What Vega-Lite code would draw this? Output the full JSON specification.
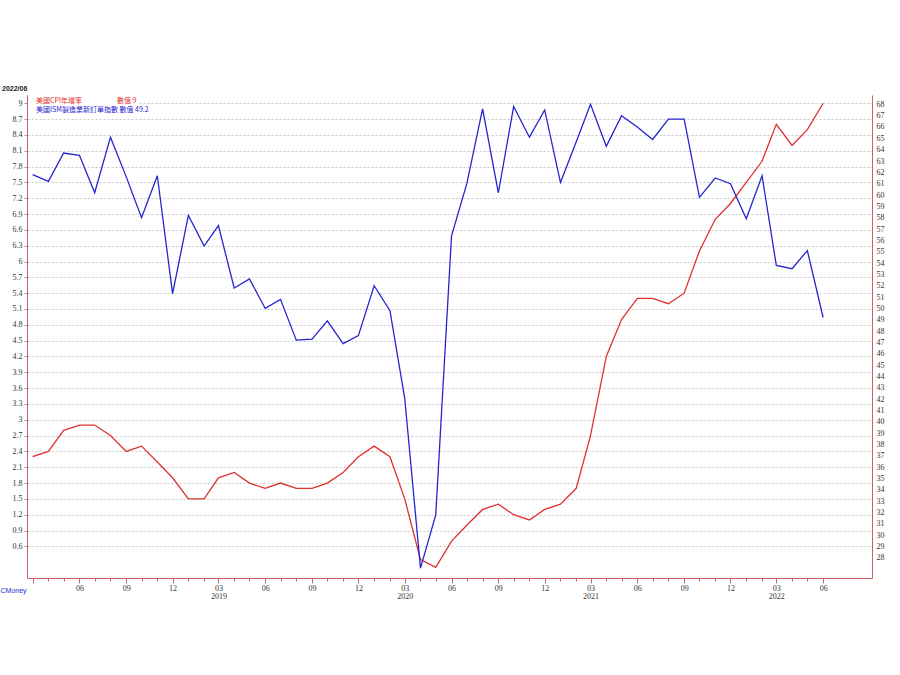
{
  "$schema": "https://vega.github.io/schema/vega-lite/v6.json",
  "width": 845,
  "height": 483,
  "autosize": {"type": "none"},
  "padding": {"left": 27, "top": 95, "right": 28, "bottom": 97},
  "background": "white",
  "config": {
    "view": {"stroke": null}
  },
  "title": {
    "text": "2022/06",
    "anchor": "start",
    "frame": "group",
    "dx": -25,
    "offset": 3,
    "fontSize": 7,
    "font": "Liberation Sans",
    "fontWeight": "bold",
    "color": "#222222"
  },
  "data": {
    "values": [
      {"date": "2018-03-01", "cpi": 2.3, "ism": 61.8},
      {"date": "2018-04-01", "cpi": 2.4, "ism": 61.2},
      {"date": "2018-05-01", "cpi": 2.8, "ism": 63.7},
      {"date": "2018-06-01", "cpi": 2.9, "ism": 63.5},
      {"date": "2018-07-01", "cpi": 2.9, "ism": 60.2},
      {"date": "2018-08-01", "cpi": 2.7, "ism": 65.1},
      {"date": "2018-09-01", "cpi": 2.4, "ism": 61.6},
      {"date": "2018-10-01", "cpi": 2.5, "ism": 58.0},
      {"date": "2018-11-01", "cpi": 2.2, "ism": 61.7},
      {"date": "2018-12-01", "cpi": 1.9, "ism": 51.3},
      {"date": "2019-01-01", "cpi": 1.5, "ism": 58.2},
      {"date": "2019-02-01", "cpi": 1.5, "ism": 55.5},
      {"date": "2019-03-01", "cpi": 1.9, "ism": 57.3},
      {"date": "2019-04-01", "cpi": 2.0, "ism": 51.8},
      {"date": "2019-05-01", "cpi": 1.8, "ism": 52.6},
      {"date": "2019-06-01", "cpi": 1.7, "ism": 50.0},
      {"date": "2019-07-01", "cpi": 1.8, "ism": 50.8},
      {"date": "2019-08-01", "cpi": 1.7, "ism": 47.2},
      {"date": "2019-09-01", "cpi": 1.7, "ism": 47.3},
      {"date": "2019-10-01", "cpi": 1.8, "ism": 48.9},
      {"date": "2019-11-01", "cpi": 2.0, "ism": 46.9},
      {"date": "2019-12-01", "cpi": 2.3, "ism": 47.6},
      {"date": "2020-01-01", "cpi": 2.5, "ism": 52.0},
      {"date": "2020-02-01", "cpi": 2.3, "ism": 49.8},
      {"date": "2020-03-01", "cpi": 1.5, "ism": 42.1},
      {"date": "2020-04-01", "cpi": 0.35, "ism": 27.1},
      {"date": "2020-05-01", "cpi": 0.2, "ism": 31.8},
      {"date": "2020-06-01", "cpi": 0.7, "ism": 56.4},
      {"date": "2020-07-01", "cpi": 1.0, "ism": 61.0},
      {"date": "2020-08-01", "cpi": 1.3, "ism": 67.6},
      {"date": "2020-09-01", "cpi": 1.4, "ism": 60.2},
      {"date": "2020-10-01", "cpi": 1.2, "ism": 67.8},
      {"date": "2020-11-01", "cpi": 1.1, "ism": 65.1},
      {"date": "2020-12-01", "cpi": 1.3, "ism": 67.5},
      {"date": "2021-01-01", "cpi": 1.4, "ism": 61.1},
      {"date": "2021-02-01", "cpi": 1.7, "ism": 64.7},
      {"date": "2021-03-01", "cpi": 2.7, "ism": 68.0},
      {"date": "2021-04-01", "cpi": 4.2, "ism": 64.3},
      {"date": "2021-05-01", "cpi": 4.9, "ism": 67.0},
      {"date": "2021-06-01", "cpi": 5.3, "ism": 66.0},
      {"date": "2021-07-01", "cpi": 5.3, "ism": 64.9},
      {"date": "2021-08-01", "cpi": 5.2, "ism": 66.7},
      {"date": "2021-09-01", "cpi": 5.4, "ism": 66.7},
      {"date": "2021-10-01", "cpi": 6.2, "ism": 59.8},
      {"date": "2021-11-01", "cpi": 6.8, "ism": 61.5},
      {"date": "2021-12-01", "cpi": 7.1, "ism": 61.0},
      {"date": "2022-01-01", "cpi": 7.5, "ism": 57.9},
      {"date": "2022-02-01", "cpi": 7.9, "ism": 61.7},
      {"date": "2022-03-01", "cpi": 8.6, "ism": 53.8},
      {"date": "2022-04-01", "cpi": 8.2, "ism": 53.5},
      {"date": "2022-05-01", "cpi": 8.5, "ism": 55.1},
      {"date": "2022-06-01", "cpi": 9.0, "ism": 49.2}
    ]
  },
  "encoding": {
    "x": {
      "field": "date",
      "type": "temporal",
      "scale": {
        "type": "utc",
        "domain": [
          {"year": 2018, "month": 2, "date": 18, "utc": true},
          {"year": 2022, "month": 9, "date": 5, "utc": true}
        ]
      },
      "axis": {
        "orient": "bottom",
        "tickCount": {"interval": "month", "step": 1},
        "labelExpr": "(datum.value < utc(2018, 3, 15) || datum.value > utc(2022, 5, 15)) ? '' : (utcmonth(datum.value) % 3 == 2 ? (utcmonth(datum.value) == 2 ? [utcFormat(datum.value, '%m'), utcFormat(datum.value, '%Y')] : utcFormat(datum.value, '%m')) : '')",
        "labelOverlap": false,
        "labelBound": false,
        "labelFlush": false,
        "labelFont": "Liberation Serif",
        "labelFontSize": 8,
        "labelLineHeight": 8,
        "labelColor": "#333333",
        "labelPadding": 1,
        "tickSize": {"condition": {"test": "utcmonth(datum.value) % 3 == 2", "value": 5}, "value": 3},
        "tickOpacity": {"condition": {"test": "datum.value > utc(2022, 5, 15)", "value": 0}, "value": 1},
        "tickColor": "#d06060",
        "domainColor": "#d06060",
        "grid": false,
        "title": "CMoney",
        "titleX": -27,
        "titleY": 12,
        "titleAlign": "left",
        "titleBaseline": "middle",
        "titleFont": "Liberation Sans",
        "titleFontSize": 7,
        "titleFontWeight": "normal",
        "titleColor": "#1a2fd0"
      }
    }
  },
  "layer": [
    {
      "mark": {"type": "line", "strokeWidth": 1.3},
      "encoding": {
        "y": {
          "field": "cpi",
          "type": "quantitative",
          "scale": {"domain": [0, 9.157], "nice": false, "zero": false},
          "axis": {
            "orient": "left",
            "title": null,
            "values": [0.6, 0.9, 1.2, 1.5, 1.8, 2.1, 2.4, 2.7, 3, 3.3, 3.6, 3.9, 4.2, 4.5, 4.8, 5.1, 5.4, 5.7, 6, 6.3, 6.6, 6.9, 7.2, 7.5, 7.8, 8.1, 8.4, 8.7, 9],
            "format": "~f",
            "labelFont": "Liberation Serif",
            "labelFontSize": 8,
            "labelColor": "#333333",
            "labelPadding": 2,
            "tickSize": 3,
            "tickColor": "#999999",
            "domainColor": "#d06060",
            "grid": true,
            "gridColor": "#c8c8c8",
            "gridDash": [2, 2],
            "gridWidth": 1
          }
        },
        "color": {
          "datum": "美國CPI年增率　　　　　數值 9",
          "scale": {"range": ["#e03030"]},
          "legend": {
            "orient": "none",
            "legendX": 1,
            "legendY": 1,
            "padding": 1,
            "fillColor": "white",
            "title": null,
            "symbolSize": 0,
            "symbolStrokeWidth": 0,
            "symbolOpacity": 0,
            "labelOffset": 0,
            "labelFont": "Noto Sans CJK TC",
            "labelFontSize": 7,
            "labelColor": "#e03030",
            "labelLimit": 300
          }
        }
      }
    },
    {
      "mark": {"type": "line", "strokeWidth": 1.3},
      "encoding": {
        "y": {
          "field": "ism",
          "type": "quantitative",
          "scale": {"domain": [26.23, 68.82], "nice": false, "zero": false},
          "axis": {
            "orient": "right",
            "title": null,
            "values": [28, 29, 30, 31, 32, 33, 34, 35, 36, 37, 38, 39, 40, 41, 42, 43, 44, 45, 46, 47, 48, 49, 50, 51, 52, 53, 54, 55, 56, 57, 58, 59, 60, 61, 62, 63, 64, 65, 66, 67, 68],
            "labelFont": "Liberation Serif",
            "labelFontSize": 8,
            "labelColor": "#333333",
            "labelPadding": 4,
            "tickSize": 0,
            "domainColor": "#d06060",
            "grid": false
          }
        },
        "color": {
          "datum": "美國ISM製造業新訂單指數 數值 49.2",
          "scale": {"range": ["#2525d0"]},
          "legend": {
            "orient": "none",
            "legendX": 1,
            "legendY": 10,
            "padding": 1,
            "fillColor": "white",
            "title": null,
            "symbolSize": 0,
            "symbolStrokeWidth": 0,
            "symbolOpacity": 0,
            "labelOffset": 0,
            "labelFont": "Noto Sans CJK TC",
            "labelFontSize": 7,
            "labelColor": "#2525d0",
            "labelLimit": 300
          }
        }
      }
    }
  ],
  "resolve": {"scale": {"y": "independent", "color": "independent"}}
}
